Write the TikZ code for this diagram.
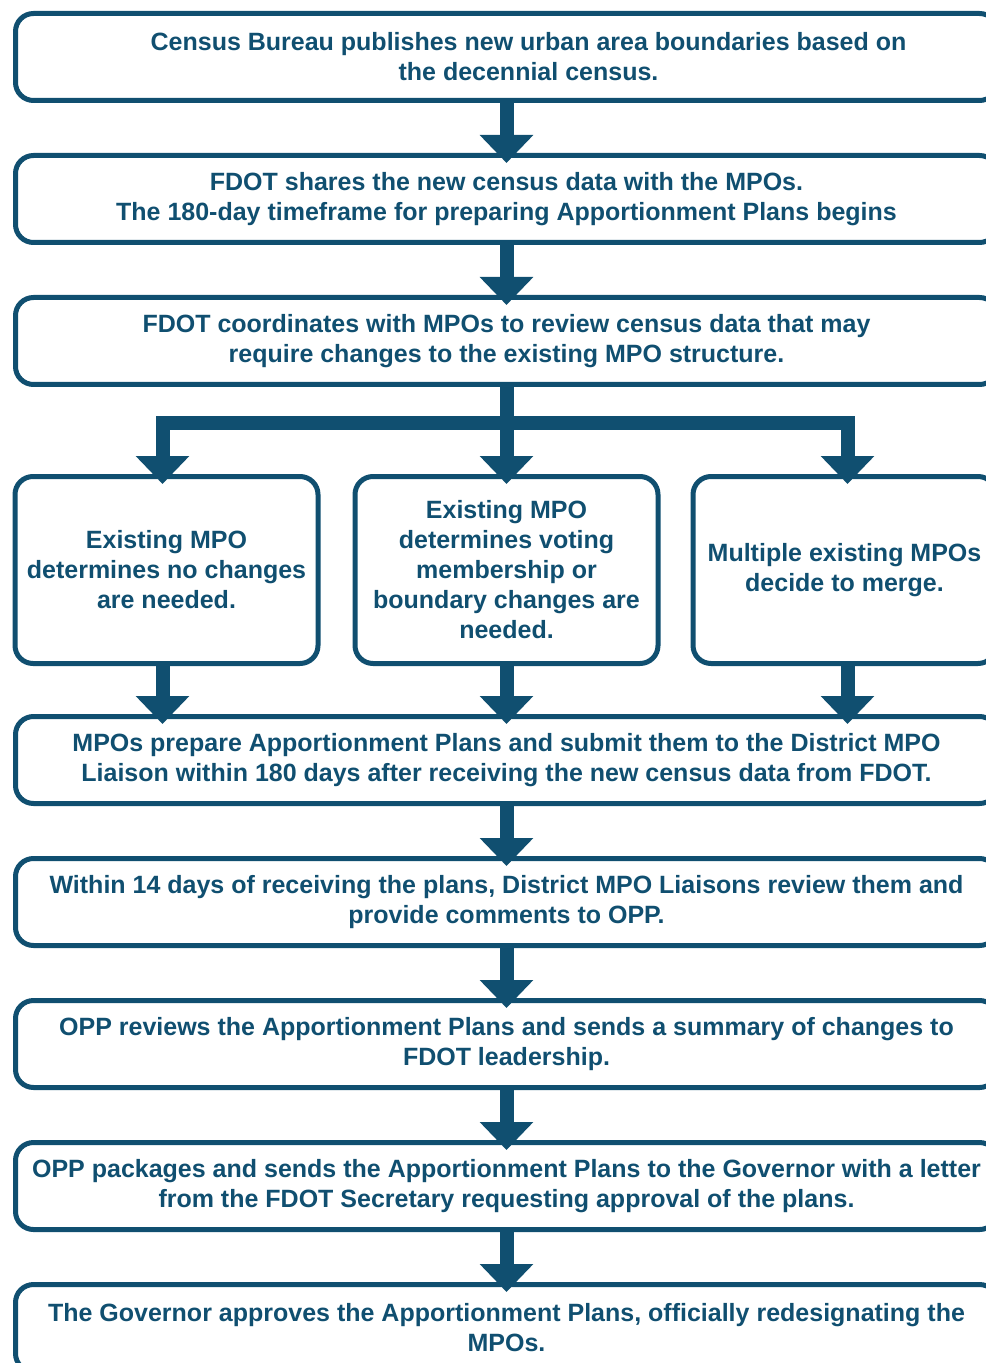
\documentclass[tikz,border=0pt]{standalone}
\usepackage{fontspec}
\setmainfont{Liberation Sans}
\usepackage{tikz}
\usetikzlibrary{positioning, arrows.meta, calc}
\definecolor{mpoBlue}{HTML}{104F70}

\begin{document}
\begin{tikzpicture}[
  % Styles
  stepbox/.style={
    rectangle, rounded corners=9pt,
    draw=mpoBlue, line width=2.5pt,
    minimum width=491pt, minimum height=43.5pt,
    inner sep=0pt,
    font=\bfseries\fontsize{12.5pt}{15pt}\selectfont,
    text=mpoBlue, align=center
  },
  choicebox/.style={
    stepbox, minimum width=151.5pt, minimum height=93.5pt
  },
  flowarrow/.style={
    -{Triangle[width=26pt, length=14pt]}, line width=7pt, draw=mpoBlue
  },
  node distance=25pt
]

\useasboundingbox (0,0) rectangle (492.5pt,-681.5pt);

% === TOP STEPS ===
\node[stepbox] (census) at (253.25pt,-28.5pt) {
  \hspace*{22pt}Census Bureau publishes new urban area boundaries based on\\
  \hspace*{22pt}the decennial census.
};

\node[stepbox, below=of census] (share) {
  FDOT shares the new census data with the MPOs.\\
  The 180-day timeframe for preparing Apportionment Plans begins
};

\node[stepbox, below=of share] (review) {
  FDOT coordinates with MPOs to review census data that may\\
  require changes to the existing MPO structure.
};

% === THREE OUTCOMES ===
\node[choicebox, below=43.5pt of review] (voting) {
  Existing MPO\\
  determines voting\\
  membership or\\
  boundary changes are\\
  needed.
};

\node[choicebox, left=16pt of voting] (nochange) {
  Existing MPO\\
  determines no changes\\
  are needed.
};

\node[choicebox, right=15pt of voting] (merge) {
  Multiple existing MPOs\\
  decide to merge.
};

% === LOWER STEPS ===
\node[stepbox, below=24pt of voting] (prepare) {
  MPOs prepare Apportionment Plans and submit them to the District MPO\\
  Liaison within 180 days after receiving the new census data from FDOT.
};

\node[stepbox, below=of prepare] (liaison) {
  Within 14 days of receiving the plans, District MPO Liaisons review them and\\
  provide comments to OPP.
};

\node[stepbox, below=of liaison] (opp) {
  OPP reviews the Apportionment Plans and sends a summary of changes to\\
  FDOT leadership.
};

\node[stepbox, below=of opp] (package) {
  OPP packages and sends the Apportionment Plans to the Governor with a letter\\
  from the FDOT Secretary requesting approval of the plans.
};

\node[stepbox, below=of package] (governor) {
  The Governor approves the Apportionment Plans, officially redesignating the\\
  MPOs.
};

% === Arrows between steps ===
\draw[flowarrow] (census) -- ([yshift=-5pt]share.north);
\draw[flowarrow] (share) -- ([yshift=-5pt]review.north);

% === Split into the three outcomes ===
\coordinate (split) at ([yshift=-18pt]review.south);
\draw[flowarrow] (review) -- ([yshift=-5pt]voting.north);
\draw[flowarrow] (split) -| ([xshift=-2pt, yshift=-5pt]nochange.north);
\draw[flowarrow] (split) -| ([xshift=1.5pt, yshift=-5pt]merge.north);

% === Outcomes back to one step ===
\draw[flowarrow] ([xshift=-2pt]nochange.south) -- ([xshift=-2pt, yshift=-5pt]nochange.south |- prepare.north);
\draw[flowarrow] (voting) -- ([yshift=-5pt]prepare.north);
\draw[flowarrow] ([xshift=1.5pt]merge.south) -- ([xshift=1.5pt, yshift=-5pt]merge.south |- prepare.north);

\draw[flowarrow] (prepare) -- ([yshift=-5pt]liaison.north);
\draw[flowarrow] (liaison) -- ([yshift=-5pt]opp.north);
\draw[flowarrow] (opp) -- ([yshift=-5pt]package.north);
\draw[flowarrow] (package) -- ([yshift=-5pt]governor.north);

\end{tikzpicture}
\end{document}
